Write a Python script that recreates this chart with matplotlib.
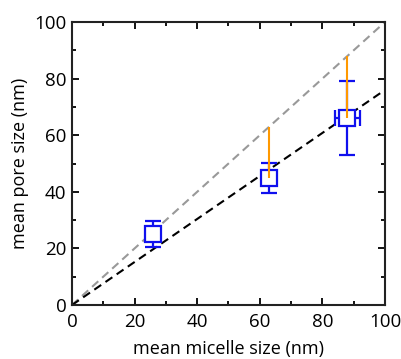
import matplotlib
matplotlib.use("Agg")
import matplotlib.pyplot as plt
import numpy as np
from matplotlib.ticker import MultipleLocator

plt.rcParams['font.family'] = ['Open Sans', 'DejaVu Sans']

# micelle size vs pore size
micelle = [26, 63, 88]
pore = [25, 45, 66]
pore_err = [4.6, 5.3, 13]
micelle_err = [0, 0, 4]
fit_slope = 0.76
line_x = [0, 100]

fig = plt.figure(figsize=(4.02, 3.59), dpi=100)
ax = fig.add_axes([72/402, 1 - 305/359, 313/402, 283/359])

ax.plot(line_x, line_x, ls=(0, (4, 2.5)), color='#999999', lw=1.5, zorder=2)
ax.plot(line_x, [v * fit_slope for v in line_x], ls=(0, (4, 2.5)), color='black', lw=1.5, zorder=2)

ax.errorbar(micelle, pore, yerr=pore_err, xerr=micelle_err,
            fmt='s', ms=11, mfc='white', mec='#1010ee', mew=1.6,
            ecolor='#1010ee', elinewidth=1.6, capsize=6, capthick=1.6, zorder=3)

# shift from measured pore size up to the y = x line
ax.vlines(micelle[1:], pore[1:], micelle[1:], color='#ff9900', lw=1.5, zorder=4)

ax.set_xlim(0, 100)
ax.set_ylim(0, 100)
ax.xaxis.set_major_locator(MultipleLocator(20))
ax.xaxis.set_minor_locator(MultipleLocator(10))
ax.yaxis.set_major_locator(MultipleLocator(20))
ax.yaxis.set_minor_locator(MultipleLocator(10))
ax.tick_params(which='both', direction='in', top=True, right=True, width=1.3, labelsize=13.5)
ax.tick_params(axis='x', pad=6)
ax.tick_params(axis='y', pad=4)
ax.tick_params(which='major', length=5)
ax.tick_params(which='minor', length=3)
for s in ax.spines.values():
    s.set_linewidth(1.5)
    s.set_color('#222222')

ax.set_xlabel('mean micelle size (nm)', fontsize=13, labelpad=6)
ax.set_ylabel('mean pore size (nm)', fontsize=13, labelpad=4)

fig.savefig('out.png', dpi=100)
